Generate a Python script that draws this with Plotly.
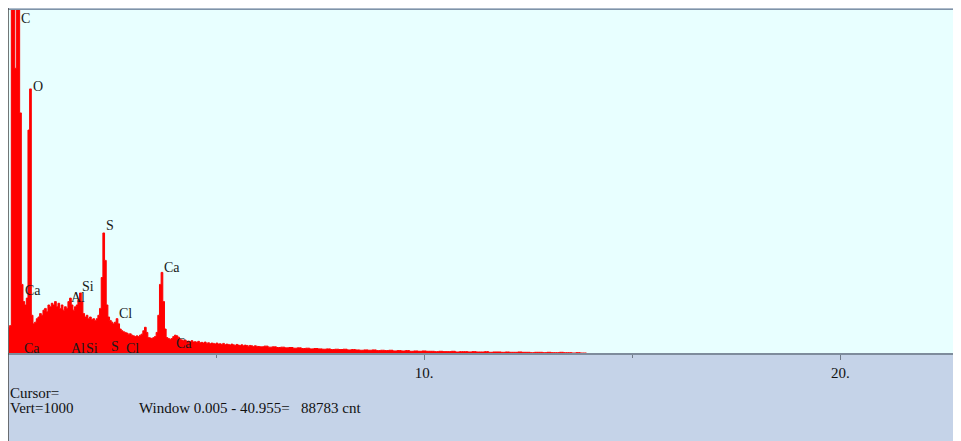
import numpy as np
import plotly.graph_objects as go

# ---------------- data ----------------
# channel energies (keV): fine channels up to 6 keV, coarser afterwards
energy_fine = np.round(np.arange(0.02, 6.0, 0.04), 2)
energy_coarse = np.round(np.arange(6.0, 14.0, 0.1), 2)
energy_keV = np.concatenate([energy_fine, energy_coarse])

counts_fine = [
    75, 80, 1200, 1150, 830, 1300, 1400, 700, 200, 150,          # 0.02-0.38
    140, 160, 650, 770, 110, 85, 90, 100, 105, 115,              # 0.42-0.78
    110, 125, 130, 120, 140, 135, 145, 140, 150, 135,            # 0.82-1.18
    145, 130, 140, 125, 135, 130, 150, 160, 140, 125,            # 1.22-1.58
    135, 140, 155, 175, 150, 115, 105, 110, 100, 105,            # 1.62-1.98
    98, 100, 95, 100, 110, 130, 220, 350, 270, 140,              # 2.02-2.38
    105, 95, 90, 85, 90, 100, 85, 70, 65, 62,                    # 2.42-2.78
    60, 58, 55, 56, 52, 50, 48, 50, 48, 52,                      # 2.82-3.18
    55, 65, 75, 60, 45, 44, 42, 45, 48, 60,                      # 3.22-3.58
    110, 200, 235, 150, 70, 45, 42, 40, 42, 48,                  # 3.62-3.98
    52, 50, 46, 40, 38, 36, 38, 34, 35, 33,                      # 4.02-4.38
    36, 32, 33, 31, 34, 30, 31, 29, 32, 28,                      # 4.42-4.78
    30, 27, 29, 28, 26, 29, 26, 27, 25, 28,                      # 4.82-5.18
    24, 26, 25, 23, 26, 24, 22, 25, 23, 22,                      # 5.22-5.58
    24, 21, 23, 22, 20, 22, 21, 19, 21, 20,                      # 5.62-5.98
]
counts_coarse = [
    19, 18, 20, 17, 18, 16, 17, 15, 16, 14,   # 6.0-6.9
    15, 13, 14, 12, 13, 12, 11, 12, 10, 11,   # 7.0-7.9
    10, 11, 9, 10, 9, 8, 9, 8, 9, 7,          # 8.0-8.9
    8, 7, 8, 6, 7, 6, 7, 5, 6, 5,             # 9.0-9.9
    6, 5, 5, 4, 5, 4, 4, 5, 3, 4,             # 10.0-10.9
    4, 3, 4, 3, 3, 4, 2, 3, 3, 2,             # 11.0-11.9
    3, 2, 2, 3, 2, 2, 1, 2, 2, 1,             # 12.0-12.9
    2, 1, 1, 2, 1, 1, 0, 1, 0, 0,             # 13.0-13.9
]
counts = counts_fine + counts_coarse

# peak labels (element, energy keV, label height in counts)
peak_elements = ["C", "O", "Ca", "Al", "Si", "S", "Cl", "Ca"]
peak_energy = [0.27, 0.55, 0.36, 1.47, 1.74, 2.31, 2.62, 3.69]
peak_label_counts = [975, 778, 183, 163, 193, 372, 115, 250]

# KLM marker labels along the baseline (element, energy keV, label height)
marker_elements = ["Ca", "Al", "Si", "S", "Cl", "Ca"]
marker_energy = [0.58, 1.69, 2.02, 2.57, 2.98, 4.23]
marker_counts = [13, 13, 13, 19, 13, 28]

x_tick_vals = [10, 20]
x_tick_text = ["10.", "20."]

cursor_text = "Cursor="
vert_text = "Vert=1000"
window_text = "Window 0.005 - 40.955=   88783 cnt"

# ---------------- figure ----------------
serif = "Liberation Serif, Times New Roman, serif"
fig = go.Figure()
fig.add_trace(go.Scatter(
    x=energy_keV, y=counts, mode="lines", line_shape="hvh",
    line=dict(color="#FF0000", width=1), fill="tozeroy",
    fillcolor="#FF0000", hoverinfo="x+y", showlegend=False,
))

for el, e, c in zip(peak_elements, peak_energy, peak_label_counts):
    fig.add_annotation(x=e, y=c, text=el, showarrow=False, xanchor="left",
                       yanchor="middle", font=dict(family=serif, size=14, color="#1a1a1a"))
for el, e, c in zip(marker_elements, marker_energy, marker_counts):
    fig.add_annotation(x=e, y=c, text=el, showarrow=False, xanchor="center",
                       yanchor="middle", font=dict(family=serif, size=14, color="#1a1a1a"))

H = 343.0
bottom_p = -88.0 / H
shapes = [
    # lower info panel
    dict(type="rect", xref="paper", yref="paper", x0=0, x1=1.01, y0=bottom_p - 0.02, y1=0,
         fillcolor="#C5D3E8", line=dict(width=0), layer="below"),
    # top frame bar
    dict(type="rect", xref="paper", yref="paper", x0=0, x1=1.01, y0=1 + 1.5 / H, y1=1 + 2.5 / H,
         fillcolor="#BAC7D9", line=dict(width=0)),
    dict(type="rect", xref="paper", yref="paper", x0=0, x1=1.01, y0=1, y1=1 + 1.5 / H,
         fillcolor="#7F93A8", line=dict(width=0)),
    # left frame line
    dict(type="line", xref="paper", yref="paper", x0=0, x1=0, y0=bottom_p - 0.02, y1=1 + 2.5 / H,
         line=dict(color="#4a4a4a", width=1.5)),
]
fig.update_layout(shapes=shapes)

fig.add_annotation(xref="paper", yref="paper", x=0, y=-40 / H, text=cursor_text,
                   showarrow=False, xanchor="left", yanchor="middle",
                   font=dict(family=serif, size=15, color="#111"))
fig.add_annotation(xref="paper", yref="paper", x=0, y=-55 / H, text=vert_text,
                   showarrow=False, xanchor="left", yanchor="middle",
                   font=dict(family=serif, size=15, color="#111"))
fig.add_annotation(xref="paper", yref="paper", x=129 / 953, y=-55 / H, text=window_text,
                   showarrow=False, xanchor="left", yanchor="middle",
                   font=dict(family=serif, size=15, color="#111"))

fig.update_xaxes(range=[0, 22.9], tickvals=x_tick_vals, ticktext=x_tick_text,
                 ticks="outside", ticklen=5, tickcolor="#707a88", tickwidth=1,
                 minor=dict(tickvals=[5, 15], ticks="outside", ticklen=3, tickcolor="#707a88"),
                 showgrid=False, zeroline=False, showline=True, linecolor="#7E8C9C",
                 linewidth=2, tickfont=dict(family=serif, size=15, color="#111"))
fig.update_yaxes(range=[0, 1000], visible=False, showgrid=False, zeroline=False)

# the page body adds an 8px margin, so the figure is 953x433 starting at (8, 8)
fig.update_layout(
    width=953, height=433, autosize=False,
    margin=dict(l=0, r=0, t=2, b=88),
    paper_bgcolor="white", plot_bgcolor="#E8FFFF",
    showlegend=False,
)
fig.write_html("out.html")
